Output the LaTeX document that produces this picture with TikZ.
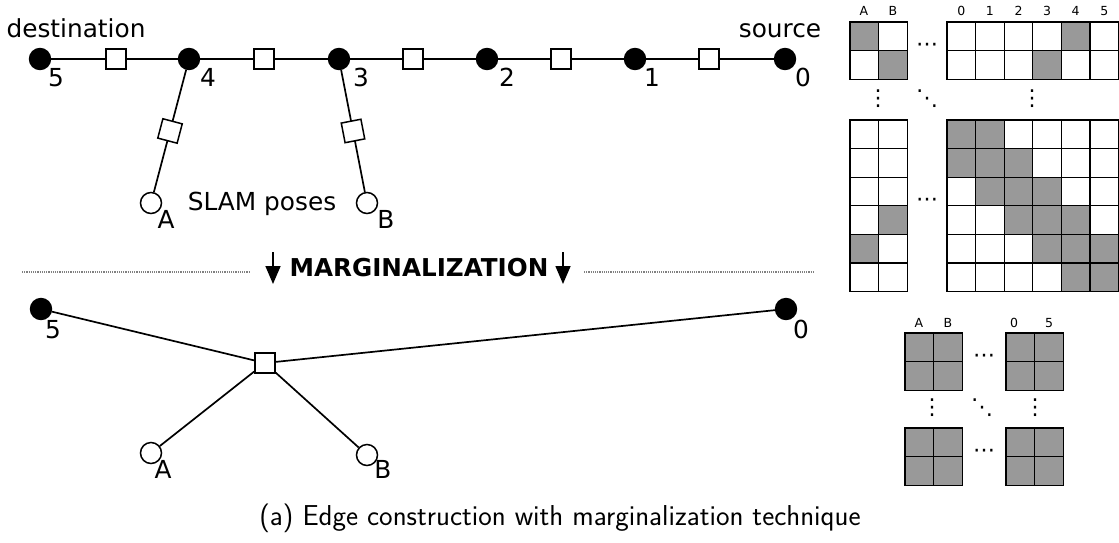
\documentclass[tikz,border=0pt]{standalone}
\usepackage{fontspec}
\setmainfont{DejaVu Sans}
\newfontfamily\capfont{Latin Modern Sans}
\usetikzlibrary{arrows.meta}
\tikzset{
  vis/.style={circle,fill=black,draw=black,line width=1.4pt,minimum size=21pt,inner sep=0pt},
  pose/.style={circle,fill=white,draw=black,line width=1.5pt,minimum size=21pt,inner sep=0pt},
  fac/.style={rectangle,fill=white,draw=black,line width=1.5pt,minimum size=20pt,inner sep=0pt},
  edge/.style={line width=1.7pt},
  lab/.style={font=\fontsize{24.8}{28}\selectfont,inner sep=0pt,anchor=base},
  mlab/.style={font=\fontsize{12.5}{14}\selectfont,inner sep=0pt,anchor=base},
  dots/.style={font=\fontsize{22}{22}\selectfont,inner sep=0pt},
  cellw/.style={draw=black,line width=1.1pt,fill=white},
  cellg/.style={draw=black,line width=1.1pt,fill=black!40},
  sep/.style={densely dotted,draw=black!50,line width=1.2pt},
  marr/.style={line width=1.6pt,-{Triangle[length=18pt,width=15pt]}}
}
\begin{document}
\begin{tikzpicture}[x=1pt,y=-1pt]
\useasboundingbox (0,0) rectangle (1119,542);
% ---------- top graph ----------
\node[vis] (n5) at (40,59) {};
\node[vis] (n4) at (189,59) {};
\node[vis] (n3) at (339,59) {};
\node[vis] (n2) at (487,59) {};
\node[vis] (n1) at (635,59) {};
\node[vis] (n0) at (785,59) {};
\node[pose] (pA) at (151,203) {};
\node[pose] (pB) at (367,203) {};
\node[fac] (f54) at (116,59) {};
\node[fac] (f43) at (264,59) {};
\node[fac] (f32) at (413,59) {};
\node[fac] (f21) at (561,59) {};
\node[fac] (f10) at (709,59) {};
\draw[edge] (n5) -- (f54) -- (n4) -- (f43) -- (n3) -- (f32) -- (n2) -- (f21) -- (n1) -- (f10) -- (n0);
\draw[edge] (n4) -- node[fac,sloped] (f4A) {} (pA);
\draw[edge] (n3) -- node[fac,sloped] (f3B) {} (pB);
\node[lab] (t5) at (56,86) {5};
\node[lab] (t4) at (208,86) {4};
\node[lab] (t3) at (361,86) {3};
\node[lab] (t2) at (507,86) {2};
\node[lab] (t1) at (652,86) {1};
\node[lab] (t0) at (803,86) {0};
\node[lab] (tA) at (166,228) {A};
\node[lab] (tB) at (386,228) {B};
\node[lab] (tdest) at (76,37) {destination};
\node[lab] (tsrc) at (780,37) {source};
\node[lab] (tslam) at (262,210) {SLAM poses};
% ---------- separator ----------
\coordinate (s1a) at (22,272);
\coordinate (s1b) at (250,272);
\coordinate (s2a) at (584,272);
\coordinate (s2b) at (813,272);
\draw[sep] (s1a) -- (s1b);
\draw[sep] (s2a) -- (s2b);
\coordinate (a1s) at (273,252);
\coordinate (a1e) at (273,284);
\coordinate (a2s) at (563,252);
\coordinate (a2e) at (563,284);
\draw[marr] (a1s) -- (a1e);
\draw[marr] (a2s) -- (a2e);
\node[lab,font=\fontsize{24.6}{28}\bfseries] (tmarg) at (419,276) {MARGINALIZATION};
% ---------- bottom graph ----------
\node[vis] (m5) at (41,309) {};
\node[vis] (m0) at (786,309) {};
\node[fac] (mf) at (265,363) {};
\node[pose] (mA) at (151,453) {};
\node[pose] (mB) at (367,455) {};
\draw[edge] (m5) -- (mf) -- (m0);
\draw[edge] (mf) -- (mA);
\draw[edge] (mf) -- (mB);
\node[lab] (u5) at (53,338) {5};
\node[lab] (u0) at (801,338) {0};
\node[lab] (uA) at (163,478) {A};
\node[lab] (uB) at (383,478) {B};
% ---------- top matrix ----------
\def\cs{28.6}
% labels
\node[mlab] (hA) at (864,15) {A};
\node[mlab] (hB) at (893,15) {B};
\foreach \i in {0,...,5}{
  \node[mlab] (h\i) at ({947+\cs*(\i+0.5)},15) {\i};
}
% top-left block 2x2
\foreach \r in {0,1}{\foreach \c in {0,1}{
  \pgfmathtruncatemacro{\g}{(\r==\c)?1:0}
  \ifnum\g=1 \def\st{cellg}\else\def\st{cellw}\fi
  \draw[\st] ({850+\cs*\c},{22+\cs*\r}) rectangle ++(\cs,\cs);
}}
% top-right block 2x6
\foreach \r in {0,1}{\foreach \c in {0,...,5}{
  \pgfmathtruncatemacro{\g}{((\r==0)&&(\c==4))||((\r==1)&&(\c==3))?1:0}
  \ifnum\g=1 \def\st{cellg}\else\def\st{cellw}\fi
  \draw[\st] ({947+\cs*\c},{22+\cs*\r}) rectangle ++(\cs,\cs);
}}
% bottom-left block 6x2
\foreach \r in {0,...,5}{\foreach \c in {0,1}{
  \pgfmathtruncatemacro{\g}{((\r==3)&&(\c==1))||((\r==4)&&(\c==0))?1:0}
  \ifnum\g=1 \def\st{cellg}\else\def\st{cellw}\fi
  \draw[\st] ({850+\cs*\c},{120+\cs*\r}) rectangle ++(\cs,\cs);
}}
% bottom-right block 6x6 band
\foreach \r in {0,...,5}{\foreach \c in {0,...,5}{
  \pgfmathtruncatemacro{\g}{((\c>=\r-1)&&(\c<=\r+1))?1:0}
  \ifnum\g=1 \def\st{cellg}\else\def\st{cellw}\fi
  \draw[\st] ({947+\cs*\c},{120+\cs*\r}) rectangle ++(\cs,\cs);
}}
\node[dots] (d1) at (927,47) {⋯};
\node[dots] (d2) at (878,99) {⋮};
\node[dots] (d3) at (927,99) {⋱};
\node[dots] (d4) at (1032,99) {⋮};
\node[dots] (d5) at (927,202) {⋯};
% ---------- bottom matrix ----------
\node[mlab] (kA) at (919,327) {A};
\node[mlab] (kB) at (948,327) {B};
\node[mlab] (k0) at (1014,327) {0};
\node[mlab] (k5) at (1049,327) {5};
\foreach \x in {905,1006}{\foreach \y in {333,428}{
  \foreach \r in {0,1}{\foreach \c in {0,1}{
    \draw[cellg] ({\x+\cs*\c},{\y+\cs*\r}) rectangle ++(\cs,\cs);
  }}
}}
\node[dots] (e1) at (984,358) {⋯};
\node[dots] (e2) at (932,408) {⋮};
\node[dots] (e3) at (982,408) {⋱};
\node[dots] (e4) at (1035,408) {⋮};
\node[dots] (e5) at (984,453) {⋯};
% ---------- caption ----------
\node[lab,font=\capfont\fontsize{28.8}{32}\selectfont] (cap) at (560,525) {(a) Edge construction with marginalization technique};
\end{tikzpicture}
\end{document}
